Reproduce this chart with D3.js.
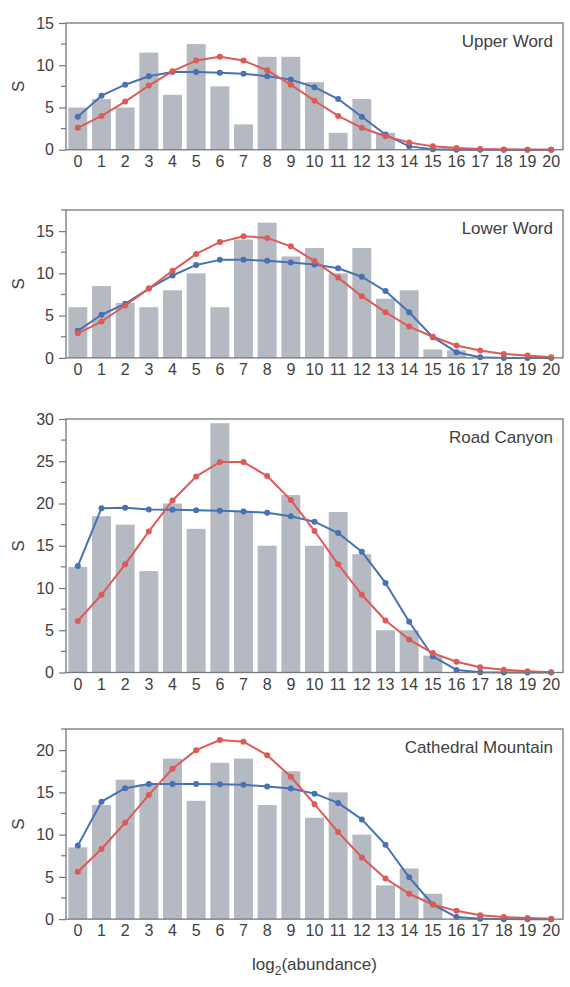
<!DOCTYPE html>
<html>
<head>
<meta charset="utf-8">
<script src="https://cdn.jsdelivr.net/npm/d3@7"></script>
<style>
  body { margin: 0; background: #fff; }
  svg { display: block; font-family: "Liberation Sans", Arial, sans-serif; }
</style>
</head>
<body>
<div id="chart"></div>
<script>
// log2 abundance classes 0..20
const octaves = d3.range(0, 21);

const siteNames = ["Upper Word", "Lower Word", "Road Canyon", "Cathedral Mountain"];
const yMaxes = [15, 17.5, 30, 22.5];

// observed species counts per octave (bars)
const observed = [
  [5, 6, 5, 11.5, 6.5, 12.5, 7.5, 3, 11, 11, 8, 2, 6, 2, 0, 0, 0, 0, 0, 0, 0],
  [6, 8.5, 6.5, 6, 8, 10, 6, 14, 16, 12, 13, 10, 13, 7, 8, 1, 0.9, 0, 0, 0, 0],
  [12.5, 18.5, 17.5, 12, 20, 17, 29.5, 19, 15, 21, 15, 19, 14, 5, 5, 2, 0, 0, 0, 0, 0],
  [8.5, 13.5, 16.5, 16, 19, 14, 18.5, 19, 13.5, 17.5, 12, 15, 10, 4, 6, 3, 0, 0, 0, 0, 0]
];

// blue fitted curve
const blueFit = [
  [3.9, 6.4, 7.7, 8.7, 9.2, 9.2, 9.1, 9.0, 8.7, 8.3, 7.4, 6.0, 3.9, 1.8, 0.4, 0.05, 0, 0, 0, 0, 0],
  [3.2, 5.1, 6.4, 8.2, 9.75, 11.0, 11.6, 11.6, 11.5, 11.3, 11.05, 10.6, 9.6, 7.9, 5.4, 2.45, 0.67, 0.08, 0, 0, 0],
  [12.6, 19.45, 19.5, 19.3, 19.25, 19.2, 19.15, 19.05, 18.9, 18.5, 17.85, 16.5, 14.3, 10.6, 6.0, 1.9, 0.3, 0.04, 0, 0, 0],
  [8.7, 13.9, 15.5, 16.0, 16.0, 16.0, 15.95, 15.9, 15.7, 15.45, 14.85, 13.75, 11.8, 8.8, 4.95, 1.73, 0.24, 0.04, 0, 0, 0]
];

// red fitted curve
const redFit = [
  [2.6, 4.0, 5.7, 7.6, 9.3, 10.55, 11.0, 10.55, 9.4, 7.7, 5.8, 4.0, 2.6, 1.6, 0.87, 0.4, 0.2, 0.08, 0.03, 0.01, 0],
  [2.9, 4.3, 6.2, 8.2, 10.3, 12.3, 13.7, 14.4, 14.2, 13.2, 11.45, 9.5, 7.3, 5.4, 3.7, 2.5, 1.46, 0.87, 0.47, 0.28, 0.08],
  [6.1, 9.2, 12.8, 16.7, 20.35, 23.2, 24.9, 24.9, 23.25, 20.4, 16.75, 12.8, 9.2, 6.15, 3.9, 2.3, 1.27, 0.63, 0.32, 0.16, 0.04],
  [5.6, 8.3, 11.4, 14.7, 17.8, 20.0, 21.2, 21.0, 19.4, 16.85, 13.6, 10.3, 7.3, 4.8, 3.0, 1.73, 0.98, 0.47, 0.24, 0.12, 0.04]
];

const width = 570, height = 987;
const left = 66, right = 563;
const panelTops = [23, 210, 419, 729];
const pxPerUnit = 8.45;

const barColor = "#b5b9c1";
const blue = "#4671b3";
const red = "#dd5b57";
const frameColor = "#74777b";
const textColor = "#404040";

const svg = d3.select("#chart").append("svg")
  .attr("width", width)
  .attr("height", height);

const x = d3.scaleBand()
  .domain(octaves)
  .range([left, right])
  .paddingInner(0.2)
  .paddingOuter(0.1);

siteNames.forEach((name, i) => {
  const top = panelTops[i];
  const bottom = top + yMaxes[i] * pxPerUnit;
  const y = d3.scaleLinear().domain([0, yMaxes[i]]).range([bottom, top]);
  const g = svg.append("g");

  // bars
  g.selectAll("rect.bar")
    .data(observed[i].map((v, k) => ({ k, v })).filter(d => d.v > 0))
    .join("rect")
    .attr("class", "bar")
    .attr("x", d => x(d.k))
    .attr("width", x.bandwidth())
    .attr("y", d => y(d.v))
    .attr("height", d => bottom - y(d.v))
    .attr("fill", barColor);

  // fitted curves
  const line = d3.line()
    .x(d => x(d.k) + x.bandwidth() / 2)
    .y(d => y(d.v));

  [[blueFit[i], blue], [redFit[i], red]].forEach(([vals, col]) => {
    const pts = vals.map((v, k) => ({ k, v }));
    g.append("path")
      .datum(pts)
      .attr("d", line)
      .attr("fill", "none")
      .attr("stroke", col)
      .attr("stroke-width", 2)
      .attr("stroke-linejoin", "round");
    g.selectAll(null)
      .data(pts)
      .join("circle")
      .attr("cx", d => x(d.k) + x.bandwidth() / 2)
      .attr("cy", d => y(d.v))
      .attr("r", 3)
      .attr("fill", col);
  });

  // frame
  g.append("rect")
    .attr("x", left)
    .attr("y", top)
    .attr("width", right - left)
    .attr("height", bottom - top)
    .attr("fill", "none")
    .attr("stroke", frameColor)
    .attr("stroke-width", 1.3);

  // y ticks: major every 5, minor every 2.5
  const minor = d3.range(2.5, yMaxes[i] + 0.01, 5);
  g.selectAll(null)
    .data(minor)
    .join("line")
    .attr("x1", left - 5).attr("x2", left)
    .attr("y1", d => y(d)).attr("y2", d => y(d))
    .attr("stroke", frameColor).attr("stroke-width", 1.2);

  const yAxis = d3.axisLeft(y)
    .tickValues(d3.range(0, yMaxes[i] + 0.01, 5))
    .tickFormat(d3.format("d"))
    .tickSize(7)
    .tickPadding(5);
  const ya = g.append("g")
    .attr("transform", `translate(${left},0)`)
    .call(yAxis);
  ya.select(".domain").remove();
  ya.selectAll("line").attr("stroke", frameColor).attr("stroke-width", 1.2);
  ya.selectAll("text")
    .attr("fill", textColor)
    .style("font-size", "16px");

  // x tick labels
  const xAxis = d3.axisBottom(x).tickSize(0).tickPadding(6);
  const xa = g.append("g")
    .attr("transform", `translate(0,${bottom})`)
    .call(xAxis);
  xa.select(".domain").remove();
  xa.selectAll("text")
    .attr("fill", textColor)
    .style("font-size", "16px");

  // y label
  g.append("text")
    .attr("transform", `translate(24,${(top + bottom) / 2}) rotate(-90)`)
    .attr("text-anchor", "middle")
    .attr("fill", textColor)
    .style("font-size", "17px")
    .text("S");

  // site name
  g.append("text")
    .attr("x", right - 10)
    .attr("y", top + 24)
    .attr("text-anchor", "end")
    .attr("fill", textColor)
    .style("font-size", "17px")
    .text(name);
});

// x axis title
const xt = svg.append("text")
  .attr("x", (left + right) / 2)
  .attr("y", 970)
  .attr("text-anchor", "middle")
  .attr("fill", textColor)
  .style("font-size", "17px");
xt.append("tspan").text("log");
xt.append("tspan").attr("dy", 5).style("font-size", "12px").text("2");
xt.append("tspan").attr("dy", -5).text("(abundance)");
</script>
</body>
</html>
